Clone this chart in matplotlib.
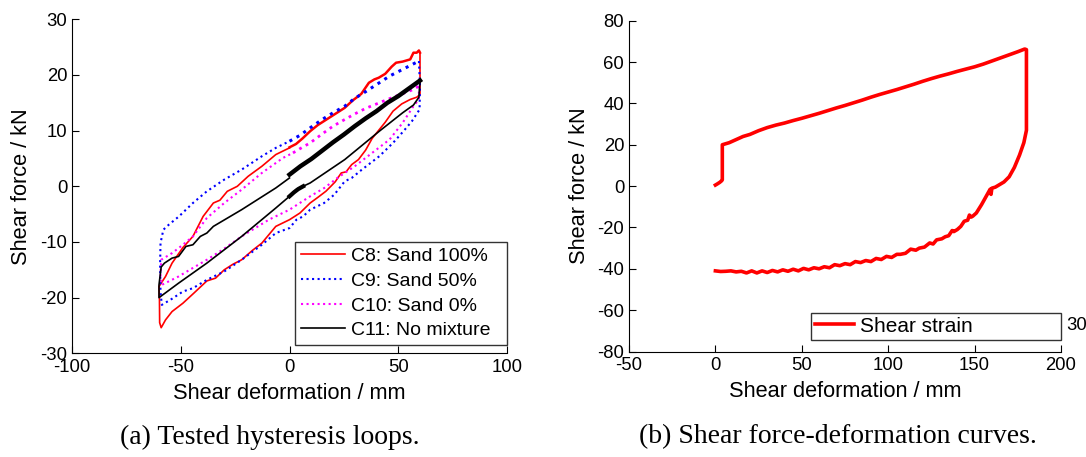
import numpy as np
import matplotlib.pyplot as plt

plt.rcParams['font.family'] = ['Liberation Sans', 'DejaVu Sans']
plt.rcParams['axes.unicode_minus'] = False

# ---- (a) hysteresis loops: first loading branch + rest of loop ----
c8_up_x = [0, 3, 6, 9.5, 13, 17, 21, 25.4, 29, 33, 36.5, 39, 41, 44, 47, 49, 52, 55.5, 57, 58.5, 59.5, 60]
c8_up_y = [7.0, 7.6, 8.6, 9.9, 11.0, 12.0, 13.0, 14.1, 15.4, 16.6, 18.6, 19.2, 19.5, 20.2, 21.5, 22.2, 22.4, 22.8, 24.0, 24.0, 24.4, 24.0]
c8_x = [60, 60, 58.5, 55.5, 51.6, 47.6, 44, 41.3, 38, 35, 31.7, 28.6, 26, 23.8, 21, 19, 16.7, 13, 9.5, 4.8, 0,
        -6.3, -12.7, -17, -22, -26, -30, -34, -38, -44, -49, -54, -57, -59, -59.7, -59.8, -60,
        -57, -54, -49, -44.4, -39.7, -35, -32, -28.6, -24, -19, -12.7, -6.3, -1.6, 0]
c8_y = [24, 16.5, 16.0, 15.6, 14.8, 13.5, 11.5, 10.2, 8.6, 6.5, 4.8, 3.9, 2.6, 2.4, 0.8, 0, -0.9, -2.0, -3.0, -4.8, -6.0,
        -7.2, -10.2, -11.5, -13.2, -14.0, -15.0, -16.5, -17.0, -19.2, -21.0, -22.5, -24.0, -25.4, -24.5, -20.0, -18.0,
        -16.2, -13.8, -11.0, -9.0, -5.4, -3.0, -2.5, -0.9, 0, 1.8, 3.6, 5.7, 6.6, 6.9]

c9_up_x = [0, 5, 9.5, 15, 20, 25.4, 30, 35, 41.3, 46, 50, 55, 59.5]
c9_up_y = [8.1, 9.2, 10.5, 12.0, 13.2, 14.4, 15.8, 17.0, 18.6, 19.8, 20.6, 21.6, 22.5]
c9_x = [59.5, 60, 59.8, 56.3, 52.4, 47.6, 41.3, 33.3, 28.6, 25.4, 20.6, 15.9, 9.5, 6.3, 3.2, 0,
        -6.3, -12.7, -22, -30, -38, -44.4, -49, -54, -58.7, -59.3, -59.5, -59.3, -58, -55.5,
        -50.8, -44.4, -38, -30, -22, -12.7, -6.3, 0]
c9_y = [22.5, 18.0, 13.8, 11.7, 9.9, 7.8, 5.4, 3.0, 1.5, 0.9, -1.5, -3.0, -4.2, -5.4, -6.0, -7.5,
        -8.4, -10.5, -13.2, -15.3, -16.8, -18.3, -18.9, -20.2, -21.3, -19.0, -14.0, -10.2, -7.8, -6.9,
        -5.4, -3.0, -0.9, 1.2, 3.0, 5.4, 6.9, 8.1]

c10_up_x = [1.6, 5, 9.5, 15, 20, 25.4, 30, 35, 41.3, 45, 49, 53, 57, 59.5]
c10_up_y = [6.0, 6.8, 7.8, 9.4, 10.8, 12.0, 13.0, 14.0, 15.0, 15.6, 16.2, 16.8, 17.4, 18.0]
c10_x = [59.5, 59.5, 57, 52, 46, 38, 30, 22, 16, 9.5, 0, -9.5, -22, -30, -38, -45, -51, -58.7, -59.3, -59,
         -54, -49, -44.4, -38, -30, -22, -12.7, -3, 1.6]
c10_y = [18.0, 15.6, 14.4, 11.4, 8.4, 6.0, 3.6, 1.5, -0.3, -1.8, -4.2, -6.0, -9.0, -11.2, -13.2, -14.8, -16.2, -17.7, -16.0, -13.2,
         -12.0, -10.5, -9.0, -5.7, -3.0, -0.6, 2.4, 5.1, 6.0]

c11_up_x = [0, 5, 10, 15, 20, 25, 30, 35, 40, 45, 50, 55, 60]
c11_up_y = [2.1, 3.6, 4.9, 6.4, 7.9, 9.3, 10.8, 12.2, 13.5, 15.0, 16.2, 17.6, 19.0]
c11_x = [60, 59.5, 57, 52, 41.3, 25.4, 9.5, 3, 0, -6.3, -22, -38, -51, -60, -60, -59, -57.5, -54, -51,
         -47.6, -44.4, -41, -38, -35, -22, -6.3, 0]
c11_y = [19.0, 16.0, 14.6, 13.2, 9.9, 4.8, 0.6, -0.6, -1.8, -3.9, -9.0, -13.8, -17.4, -20.0, -17.7, -14.5, -13.8, -12.9, -12.6,
         -10.8, -10.5, -9.0, -8.4, -7.2, -4.2, -0.3, 1.5]
c11_seg_x = [0, 2, 4, 6.3]
c11_seg_y = [-1.8, -1.1, -0.5, 0.0]

labels_a = ['C8: Sand 100%', 'C9: Sand 50%', 'C10: Sand 0%', 'C11: No mixture']

# ---- (b) shear force-deformation curve ----
b_x = [0, 1, 2.5, 3.5, 4, 4, 8, 12, 16, 20, 25, 30, 35, 40, 45, 50, 55, 60, 65, 70, 75, 80, 85, 90, 95,
       100, 105, 110, 115, 120, 125, 130, 135, 140, 145, 150, 155, 160, 165, 170, 175, 179, 180, 180,
       178.5, 176, 173, 170, 167, 164, 162, 160, 159.5, 159, 157, 154, 151, 149, 148, 147, 146, 144, 142,
       140, 138, 137, 135, 133, 131, 128, 126, 124, 121, 118, 116, 113, 110, 107, 105, 102, 99, 96, 93,
       90, 87, 84, 81, 78, 75, 72, 69, 66, 63, 60, 57, 54, 51, 48, 45, 42, 39, 36, 33, 30, 27, 24, 21,
       18, 15, 12, 9, 6, 3, 0]
b_y = [0.5, 1.0, 1.8, 2.5, 3.0, 20.0, 21.0, 22.5, 24.0, 25.0, 26.8, 28.3, 29.5, 30.5, 31.7, 32.8, 34.0, 35.2,
       36.5, 37.8, 39.0, 40.3, 41.6, 43.0, 44.3, 45.5, 46.7, 48.0, 49.3, 50.7, 52.0, 53.2, 54.3, 55.5, 56.6,
       57.7, 59.0, 60.5, 62.0, 63.5, 65.0, 66.3, 66.0, 27.0,
       21.0, 15.0, 9.0, 4.5, 2.0, 0.5, -0.5, -1.0, -4.0, -1.5, -4.5, -9.0, -13.0, -14.5, -15.0, -14.0, -16.5,
       -17.0, -19.5, -21.0, -22.0, -21.5, -24.0, -24.5, -25.5, -26.0, -28.0, -27.5, -29.5, -30.0, -31.0,
       -30.5, -32.5, -33.0, -33.0, -34.5, -34.0, -35.5, -35.0, -36.5, -36.0, -37.0, -36.5, -38.0, -37.5,
       -38.5, -38.0, -39.5, -39.0, -40.0, -39.5, -40.5, -39.8, -41.0, -40.2, -41.2, -40.5, -41.5, -40.8,
       -41.8, -41.0, -42.0, -41.0, -42.0, -41.2, -41.5, -41.0, -41.2, -41.3, -41.0]

fig = plt.figure(figsize=(10.86, 4.57), dpi=100)
ax1 = fig.add_axes([72/1086, 1 - 353.3/457, 435/1086, 334/457])
ax2 = fig.add_axes([629/1086, 1 - 351.5/457, 432/1086, 330.8/457])

ax1.plot(c8_up_x, c8_up_y, color='#ff0000', lw=1.8)
ax1.plot(c8_x, c8_y, color='#ff0000', lw=1.2, label=labels_a[0])
ax1.plot(c9_up_x, c9_up_y, color='#0000ff', lw=2.2, ls=':')
ax1.plot(c9_x, c9_y, color='#0000ff', lw=1.5, ls=':', label=labels_a[1])
ax1.plot(c10_up_x, c10_up_y, color='#ff00ff', lw=2.0, ls=':')
ax1.plot(c10_x, c10_y, color='#ff00ff', lw=1.5, ls=':', label=labels_a[2])
ax1.plot(c11_up_x, c11_up_y, color='black', lw=3.2)
ax1.plot(c11_seg_x, c11_seg_y, color='black', lw=3.0)
ax1.plot(c11_x, c11_y, color='black', lw=1.2, label=labels_a[3])

ax1.set_xlim(-100, 100)
ax1.set_ylim(-30, 30)
ax1.set_xticks([-100, -50, 0, 50, 100])
ax1.set_yticks([-30, -20, -10, 0, 10, 20, 30])
ax1.set_xlabel('Shear deformation / mm', fontsize=15.7, labelpad=5)
ax1.set_ylabel('Shear force / kN', fontsize=15.7, labelpad=6)
leg1 = ax1.legend(loc='lower left', bbox_to_anchor=(0.512, 0.025, 0.487, 0.309), mode='expand',
                  borderaxespad=0, fontsize=14, fancybox=False, handlelength=2.3, handletextpad=0.3,
                  labelspacing=0.36, borderpad=0.3)
leg1.get_frame().set_edgecolor('black')
leg1.get_frame().set_linewidth(1.0)

ax2.plot(b_x, b_y, color='#ff0000', lw=2.6, label='Shear strain')
ax2.set_xlim(-50, 200)
ax2.set_ylim(-80, 80)
ax2.set_xticks([-50, 0, 50, 100, 150, 200])
ax2.set_yticks([-80, -60, -40, -20, 0, 20, 40, 60, 80])
ax2.set_xlabel('Shear deformation / mm', fontsize=15.7, labelpad=5)
ax2.set_ylabel('Shear force / kN', fontsize=15.7, labelpad=5)
leg2 = ax2.legend(loc='lower left', bbox_to_anchor=(0.421, 0.035, 0.579, 0.096), mode='expand',
                  borderaxespad=0, fontsize=15, fancybox=False, handlelength=1.85, handletextpad=0.3,
                  borderpad=0.2)
leg2.get_frame().set_edgecolor('black')
leg2.get_frame().set_linewidth(1.0)

for ax in (ax1, ax2):
    for s in ('top', 'right'):
        ax.spines[s].set_visible(False)
    ax.tick_params(direction='in', length=5, labelsize=13.3, colors='black', pad=4)
    ax.tick_params(axis='y', pad=3.5)

fig.text(1066/1086, 1 - 325/457, '30', fontsize=13.3, ha='left', va='center')

fig.text(270/1086, 1 - 437/457, '(a) Tested hysteresis loops.', fontsize=20,
         family='Liberation Serif', ha='center', va='center')
fig.text(838/1086, 1 - 437/457, '(b) Shear force-deformation curves.', fontsize=20,
         family='Liberation Serif', ha='center', va='center')

fig.savefig('out.png', dpi=100)
